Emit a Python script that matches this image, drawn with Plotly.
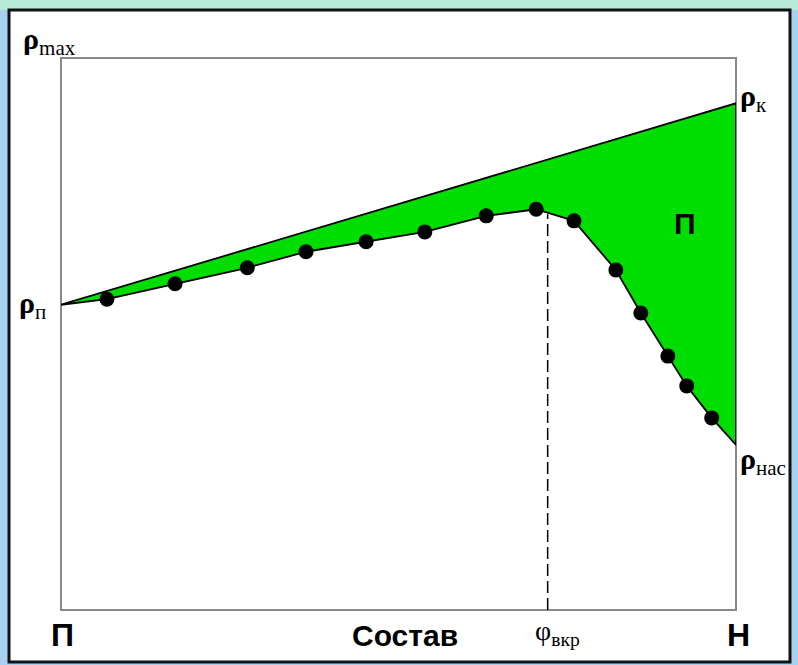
import plotly.graph_objects as go

# Composition axis (0 = П, 100 = Н) and density levels (relative units)
top_x = [0, 100]
top_y = [55.3, 91.8]

curve_x = [0, 6.8, 16.9, 27.6, 36.3, 45.2, 53.9, 63.0, 70.4, 76.0, 82.2, 85.9, 89.9, 92.7, 96.4, 100]
curve_y = [55.3, 56.3, 59.1, 62.0, 64.9, 66.7, 68.5, 71.4, 72.6, 70.5, 61.6, 53.8, 46.0, 40.6, 34.8, 29.9]

dot_x = curve_x[1:-1]
dot_y = curve_y[1:-1]

phi_kr = 72.1
phi_kr_top = 71.7

fig = go.Figure()

# Two-phase region between the upper line and the saturation curve
poly_x = top_x + curve_x[::-1]
poly_y = top_y + curve_y[::-1]
fig.add_trace(go.Scatter(
    x=poly_x, y=poly_y, mode="lines", fill="toself",
    fillcolor="#00dd00", line=dict(color="black", width=1.8),
    hoverinfo="skip", showlegend=False,
))

# Critical composition marker
fig.add_trace(go.Scatter(
    x=[phi_kr, phi_kr], y=[0, phi_kr_top], mode="lines",
    line=dict(color="black", width=1.5, dash="12px,5px"),
    hoverinfo="skip", showlegend=False,
))

# Measured points on the saturation curve
fig.add_trace(go.Scatter(
    x=dot_x, y=dot_y, mode="markers",
    marker=dict(color="black", size=15),
    showlegend=False,
))

font = "Liberation Sans, Arial, sans-serif"
serif = "Liberation Serif, Times New Roman, serif"

def label(text, x, y, size=22, anchor="left", fam=serif):
    # x, y given in axis units (0..100); paper refs allow positions outside the box
    fig.add_annotation(x=x / 100, y=y / 100, xref="paper", yref="paper", text=text,
                       showarrow=False, xanchor=anchor, yanchor="middle",
                       font=dict(family=fam, size=size, color="black"))

label("<b>ρ</b><sub>max</sub>", -5.9, 103.0, size=30)
label("<b>ρ</b><sub>п</sub>", -6.5, 55.3, size=30)
label("<b>ρ</b><sub>к</sub>", 100.3, 92.8, size=30)
label("<b>ρ</b><sub>нас</sub>", 100.3, 27.0, size=30)
label("<b>П</b>", 92.4, 70.0, size=30, anchor="center", fam=font)
label("<b>П</b>", 0.2, -4.6, size=32, anchor="center", fam=font)
label("<b>Состав</b>", 51.0, -4.6, size=30, anchor="center", fam=font)
label("φ<sub>вкр</sub>", 73.6, -4.0, size=28, anchor="center", fam=serif)
label("<b>Н</b>", 100.4, -4.6, size=32, anchor="center", fam=font)

W, H = 798, 665
L, R, T, B = 61, 736, 58, 610
pw, ph = R - L, B - T

def px(x):
    return (x - L) / pw

def py(y):
    return (B - y) / ph

shapes = [
    # top tinted strip
    dict(type="rect", xref="paper", yref="paper", x0=px(0), x1=px(W), y0=py(10), y1=py(0),
         fillcolor="#b7ead8", line=dict(width=0), layer="below"),
    # white panel with black frame
    dict(type="rect", xref="paper", yref="paper", x0=px(9), x1=px(790), y0=py(662), y1=py(10),
         fillcolor="white", line=dict(color="#111111", width=3), layer="below"),
    # plot box
    dict(type="rect", xref="paper", yref="paper", x0=0, x1=1, y0=0, y1=1,
         line=dict(color="#8a8a8a", width=2), layer="below"),
]

fig.update_layout(
    width=W, height=H,
    margin=dict(l=L, r=W - R, t=T, b=H - B),
    paper_bgcolor="#a6d2ef", plot_bgcolor="white",
    shapes=shapes,
    xaxis=dict(range=[0, 100], visible=False, fixedrange=True),
    yaxis=dict(range=[0, 100], visible=False, fixedrange=True),
    showlegend=False,
)

fig.write_html("out.html")
